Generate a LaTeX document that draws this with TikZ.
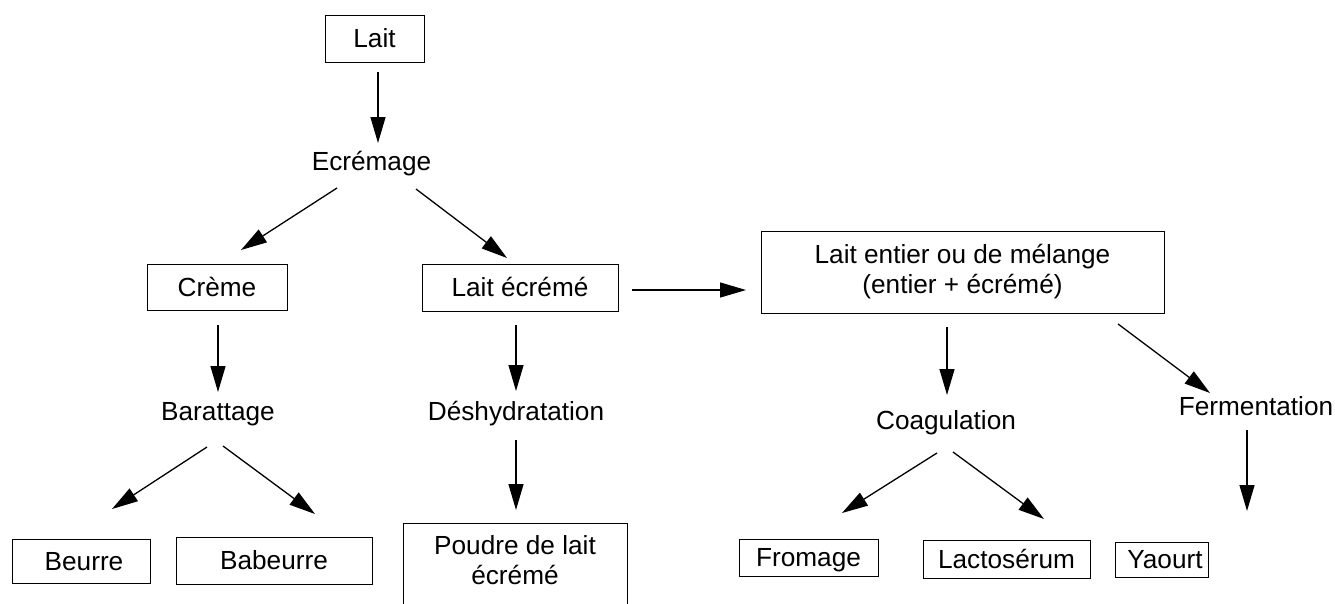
\documentclass[tikz,border=0pt]{standalone}
\usepackage{fontspec}
\setmainfont{Liberation Sans}
\usetikzlibrary{arrows.meta}
\begin{document}
\begin{tikzpicture}[x=1pt,y=-1pt,
  every node/.style={font=\fontsize{26.2}{30}\selectfont, inner sep=0pt, text height=23.58pt, text depth=4.82pt},
  multi/.style={align=center, text height=, text depth=},
  box/.style={draw, line width=0.9pt},
  lbl/.style={},
  arr/.style={line width=1.3pt, -{Triangle[length=26pt,width=15pt]}}]
\useasboundingbox (0,0) rectangle (1335,603);
\clip (0,0) rectangle (1335,603);
% boxes
\node[box, minimum width=99pt, minimum height=47pt] (lait) at (374.5,38.5) {Lait};
\node[box, minimum width=140pt, minimum height=46pt] (creme) at (217,287) {Crème};
\node[box, minimum width=196pt, minimum height=47pt] (laitecr) at (520,287.5) {Lait écrémé};
\node[box, multi, minimum width=403pt, minimum height=82pt] (entier) at (962.5,272) {Lait entier ou de mélange\\(entier + écrémé)};
\node[box, minimum width=138pt, minimum height=44pt] (beurre) at (81,561) {\hspace*{6pt}Beurre};
\node[box, minimum width=196pt, minimum height=47pt] (babeurre) at (274,560.5) {Babeurre};
\node[multi] (poudre) at (515,560) {Poudre de lait\\écrémé};
\draw[line width=0.9pt] ([shift={(-112,-37)}]poudre.center) rectangle ([shift={(112,70)}]poudre.center);
\node[box, minimum width=139pt, minimum height=37pt] (fromage) at (808.5,557.5) {Fromage};
\node[box, minimum width=167pt, minimum height=38pt] (lacto) at (1006.5,559) {Lactosérum};
\node[box, minimum width=93pt, minimum height=35pt] (yaourt) at (1161.5,559.5) {\hspace*{7pt}Yaourt};
% process labels
\node[lbl] (ecr) at (371.5,161) {Ecrémage};
\node[lbl] (baratt) at (218,411) {Barattage};
\node[lbl] (desh) at (516,411) {Déshydratation};
\node[lbl] (coag) at (946,420) {Coagulation};
\node[lbl] (ferm) at (1256,406.5) {Fermentation};
% arrows
\draw[arr] ([shift={(3.5,33.5)}]lait.center) -- ([shift={(6.5,-18)}]ecr.center);
\draw[arr] ([shift={(-34.5,27)}]ecr.center) -- ([shift={(24,-37)}]creme.center);
\draw[arr] ([shift={(44.5,28)}]ecr.center) -- ([shift={(-13,-29.5)}]laitecr.center);
\draw[arr] ([shift={(1,38)}]creme.center) -- ([shift={(0,-19)}]baratt.center);
\draw[arr] ([shift={(-4,37.5)}]laitecr.center) -- ([shift={(0,-20)}]desh.center);
\draw[arr] ([shift={(112,2.5)}]laitecr.center) -- ([shift={(-216.5,18)}]entier.center);
\draw[arr] ([shift={(-11,36)}]baratt.center) -- ([shift={(31,-52)}]beurre.center);
\draw[arr] ([shift={(5,35)}]baratt.center) -- ([shift={(41,-46.5)}]babeurre.center);
\draw[arr] ([shift={(0,29)}]desh.center) -- ([shift={(1,-50)}]poudre.center);
\draw[arr] ([shift={(-15.5,55)}]entier.center) -- ([shift={(1,-25)}]coag.center);
\draw[arr] ([shift={(155.5,52)}]entier.center) -- ([shift={(-46,-13.5)}]ferm.center);
\draw[arr] ([shift={(-9,33)}]coag.center) -- ([shift={(33.5,-44.5)}]fromage.center);
\draw[arr] ([shift={(7,32)}]coag.center) -- ([shift={(37.5,-40)}]lacto.center);
\draw[arr] ([shift={(-9,23.5)}]ferm.center) -- ([shift={(85.5,-48.5)}]yaourt.center);
\end{tikzpicture}
\end{document}
